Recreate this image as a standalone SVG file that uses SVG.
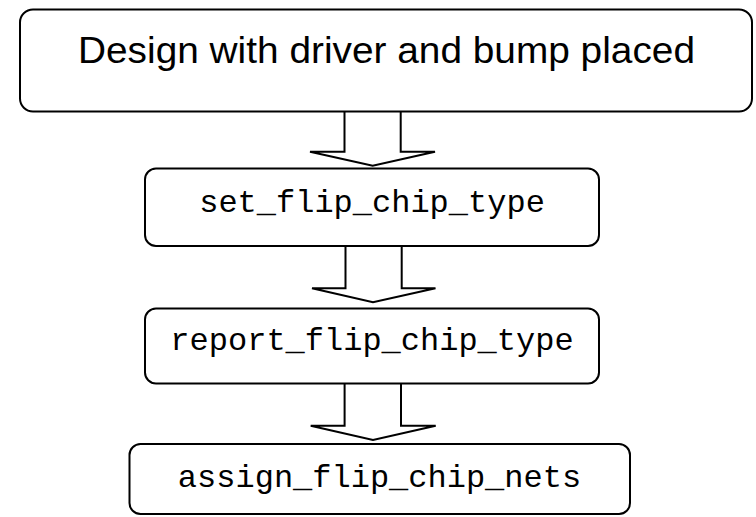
<svg xmlns="http://www.w3.org/2000/svg" width="756" height="517" viewBox="0 0 756 517">
  <style>
    .box { fill: #ffffff; stroke: #000000; stroke-width: 2; }
    .arrow { fill: #ffffff; stroke: #000000; stroke-width: 2; stroke-linejoin: miter; }
    .title { font-family: "Liberation Sans", Arial, sans-serif; font-size: 37px; fill: #000000; text-anchor: middle; }
    .code { font-family: "Liberation Mono", "Courier New", monospace; font-size: 32px; fill: #000000; text-anchor: middle; }
  </style>
  <rect x="0" y="0" width="756" height="517" fill="#ffffff"/>
  <g id="connectors">
    <polyline class="arrow" points="344.5,112 344.5,151.7 310,151.7 372.7,165.7 435,151.7 400.7,151.7 400.7,112"/>
    <polyline class="arrow" points="345.5,246 345.5,288.3 312,288.3 373,302.3 435.5,288.3 401.7,288.3 401.7,246"/>
    <polyline class="arrow" points="344.6,383.5 344.6,425.7 310.7,425.7 373,440 435.7,425.7 401,425.7 401,383.5"/>
  </g>
  <g id="node-design">
    <rect class="box" x="20" y="9.5" width="732" height="102" rx="13" ry="13"/>
    <text class="title" x="386.5" y="63" textLength="617" lengthAdjust="spacingAndGlyphs">Design with driver and bump placed</text>
  </g>
  <g id="node-set">
    <rect class="box" x="145" y="168.5" width="454" height="77.5" rx="11" ry="11"/>
    <text class="code" x="372" y="212">set_flip_chip_type</text>
  </g>
  <g id="node-report">
    <rect class="box" x="145" y="308.5" width="454" height="75" rx="11" ry="11"/>
    <text class="code" x="372" y="350">report_flip_chip_type</text>
  </g>
  <g id="node-assign">
    <rect class="box" x="129.5" y="444" width="500.5" height="70" rx="11" ry="11"/>
    <text class="code" x="379.5" y="487">assign_flip_chip_nets</text>
  </g>
</svg>
